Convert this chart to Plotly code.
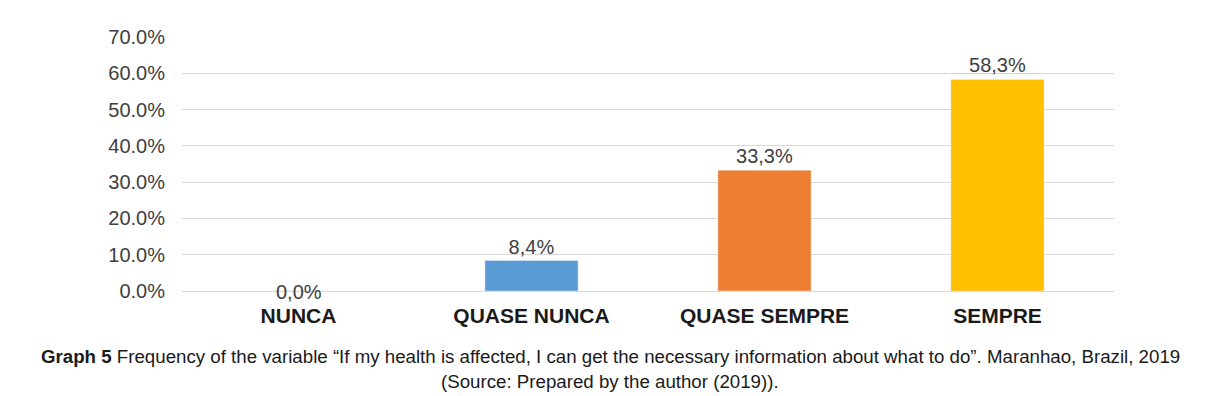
import plotly.graph_objects as go

categories = ["NUNCA", "QUASE NUNCA", "QUASE SEMPRE", "SEMPRE"]
values = [0.0, 8.4, 33.3, 58.3]
colors = ["#5B9BD5", "#5B9BD5", "#ED7D31", "#FFC000"]
labels = [f"{v:.1f}".replace(".", ",") + "%" for v in values]
yticks = [0, 10, 20, 30, 40, 50, 60, 70]
yticktext = [f"{v:.1f}%" for v in yticks]

caption1 = ("<b>Graph 5</b> Frequency of the variable \u201cIf my health is affected, I can get the "
            "necessary information about what to do\u201d. Maranhao, Brazil, 2019")
caption2 = "(Source: Prepared by the author (2019))."

FONT = "Liberation Sans, Arial"
W, H = 1210, 396
L, T, R, B = 174, 29, 104, 113  # page has 8px body margin

# zero-valued bars get their label drawn on the baseline (as in the source)
bar_text = [lab if v > 0 else "" for lab, v in zip(labels, values)]

fig = go.Figure(go.Bar(
    x=categories, y=values, marker_color=colors,
    text=bar_text, textposition="outside", cliponaxis=False,
    textfont=dict(family=FONT, size=20, color="#404040"),
))
for c, v, lab in zip(categories, values, labels):
    if v == 0:
        fig.add_annotation(x=c, y=v, text=lab, showarrow=False, yanchor="middle",
                           yshift=-1, font=dict(family=FONT, size=20, color="#404040"))
fig.update_layout(
    width=W, height=H,
    margin=dict(l=L, r=R, t=T, b=B),
    paper_bgcolor="white", plot_bgcolor="white",
    bargap=0.6, showlegend=False,
    xaxis=dict(tickfont=dict(family=FONT, size=21, color="#1a1a1a"),
               tickprefix="<b>", ticksuffix="</b>", showline=False, ticks="",
               ticklabelstandoff=10),
    yaxis=dict(range=[0, 70], tickmode="array", tickvals=yticks, ticktext=yticktext,
               tickfont=dict(family=FONT, size=20, color="#404040"),
               gridcolor="#D9D9D9", gridwidth=1, zeroline=True, zerolinecolor="#D9D9D9",
               zerolinewidth=1, ticks="", ticklabelstandoff=16),
)
plot_h = H - T - B
plot_w = W - L - R
def py(y_screen):
    return (H - B - (y_screen - 8)) / plot_h
def px(x_screen):
    return ((x_screen - 8) - L) / plot_w
for txt, ys in [(caption1, 356), (caption2, 381)]:
    fig.add_annotation(text=txt, x=px(610), y=py(ys), xref="paper", yref="paper",
                       showarrow=False, xanchor="center", yanchor="middle",
                       font=dict(family=FONT, size=18.7, color="#1a1a1a"))
fig.write_html("out.html")
